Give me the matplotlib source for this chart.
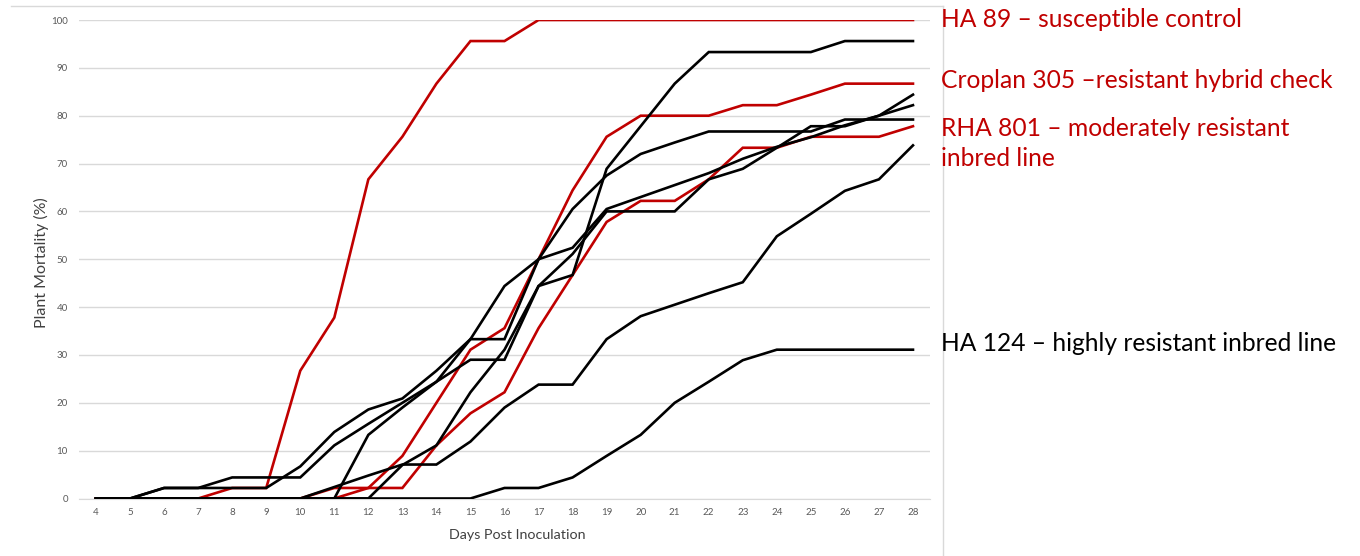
import matplotlib
matplotlib.use("Agg")
import matplotlib.pyplot as plt
from matplotlib.lines import Line2D

plt.rcParams['font.family'] = ['Lato', 'DejaVu Sans']

days = list(range(4, 29))

ha89 = [0, 0, 0, 0, 2.2, 2.2, 26.7, 37.8, 66.7, 75.6, 86.7, 95.6, 95.6,
        100, 100, 100, 100, 100, 100, 100, 100, 100, 100, 100, 100]
croplan305 = [0, 0, 0, 0, 0, 0, 0, 0, 2.2, 8.9, 20.0, 31.1, 35.6,
              50.0, 64.4, 75.6, 80.0, 80.0, 80.0, 82.2, 82.2, 84.4, 86.7, 86.7, 86.7]
rha801 = [0, 0, 0, 0, 0, 0, 0, 2.2, 2.2, 2.2, 11.1, 17.8, 22.2,
          35.6, 46.7, 57.8, 62.2, 62.2, 66.7, 73.3, 73.3, 75.6, 75.6, 75.6, 77.8]
ha124 = [0, 0, 0, 0, 0, 0, 0, 0, 0, 0, 0, 0, 2.2,
         2.2, 4.4, 8.9, 13.3, 20.0, 24.4, 28.9, 31.1, 31.1, 31.1, 31.1, 31.1]
line_b = [0, 0, 0, 0, 0, 0, 0, 2.4, 4.8, 7.1, 7.1, 11.9, 19.0,
          23.8, 23.8, 33.3, 38.1, 40.5, 42.9, 45.2, 54.8, 59.5, 64.3, 66.7, 73.8]
line_e = [0, 0, 0, 0, 0, 0, 0, 0, 13.3, 19.0, 24.4, 33.3, 44.4,
          50.0, 52.4, 60.5, 63.0, 65.5, 68.0, 71.0, 73.5, 75.5, 78.0, 80.0, 82.2]
line_d = [0, 0, 0, 0, 0, 0, 0, 0, 0, 7.0, 11.1, 22.2, 31.1,
          44.4, 51.1, 60.0, 60.0, 60.0, 66.7, 68.9, 73.3, 77.8, 77.8, 80.0, 84.4]
line_f = [0, 0, 2.2, 2.2, 2.2, 2.2, 6.7, 13.9, 18.6, 20.9, 26.7, 33.3, 33.3,
          50.0, 60.5, 67.5, 72.0, 74.4, 76.7, 76.7, 76.7, 76.7, 79.2, 79.2, 79.2]
line_a = [0, 0, 2.2, 2.2, 4.4, 4.4, 4.4, 11.1, 15.6, 20.0, 24.4, 29.0, 29.0,
          44.4, 46.7, 68.9, 77.8, 86.7, 93.3, 93.3, 93.3, 93.3, 95.6, 95.6, 95.6]

red_series = [ha89, croplan305, rha801]
black_series = [ha124, line_b, line_e, line_d, line_f, line_a]

RED = '#C00000'
W, H = 1360, 556
fig = plt.figure(figsize=(W / 100, H / 100), dpi=100)
ax = fig.add_axes([79 / W, 1 - 498.5 / H, (930 - 79) / W, (498.5 - 20) / H])

for s in red_series:
    ax.plot(days, s, color=RED, lw=1.9, solid_joinstyle='miter', zorder=3)
for s in black_series:
    ax.plot(days, s, color='black', lw=1.9, solid_joinstyle='miter', zorder=4)

ax.set_xlim(3.5, 28.5)
ax.set_ylim(0, 100)
ax.set_xticks(days)
ax.set_yticks(range(0, 101, 10))
ax.grid(axis='y', color='#d9d9d9', lw=1.0)
ax.set_axisbelow(True)
for sp in ['top', 'right', 'left']:
    ax.spines[sp].set_visible(False)
ax.spines['bottom'].set_color('#d9d9d9')
ax.tick_params(length=0, labelsize=7, labelcolor='#595959')
ax.tick_params(axis='y', pad=8)
ax.tick_params(axis='x', pad=7)

fig.text(41 / W, 1 - 263 / H, 'Plant Mortality (%)', rotation=90,
         ha='center', va='center', fontsize=11.5, color='#404040')
fig.text(517 / W, 1 - 535 / H, 'Days Post Inoculation',
         ha='center', va='center', fontsize=10.3, color='#404040')

# chart-area border (top and right)
fig.add_artist(Line2D([11 / W, 943 / W], [1 - 6 / H, 1 - 6 / H],
                      color='#d9d9d9', lw=1.0, transform=fig.transFigure))
fig.add_artist(Line2D([943 / W, 943 / W], [1 - 6 / H, 0],
                      color='#d9d9d9', lw=1.0, transform=fig.transFigure))

fs = 17.7
fig.text(941 / W, 1 - 27 / H, 'HA 89 – susceptible control',
         ha='left', va='baseline', fontsize=fs, color=RED)
fig.text(941 / W, 1 - 88 / H, 'Croplan 305 –resistant hybrid check',
         ha='left', va='baseline', fontsize=fs, color=RED)
fig.text(941 / W, 1 - 136 / H, 'RHA 801 – moderately resistant',
         ha='left', va='baseline', fontsize=fs, color=RED)
fig.text(941 / W, 1 - 166 / H, 'inbred line',
         ha='left', va='baseline', fontsize=fs, color=RED)
fig.text(941 / W, 1 - 351 / H, 'HA 124 – highly resistant inbred line',
         ha='left', va='baseline', fontsize=fs, color='black')

fig.savefig('out.png', dpi=100)
